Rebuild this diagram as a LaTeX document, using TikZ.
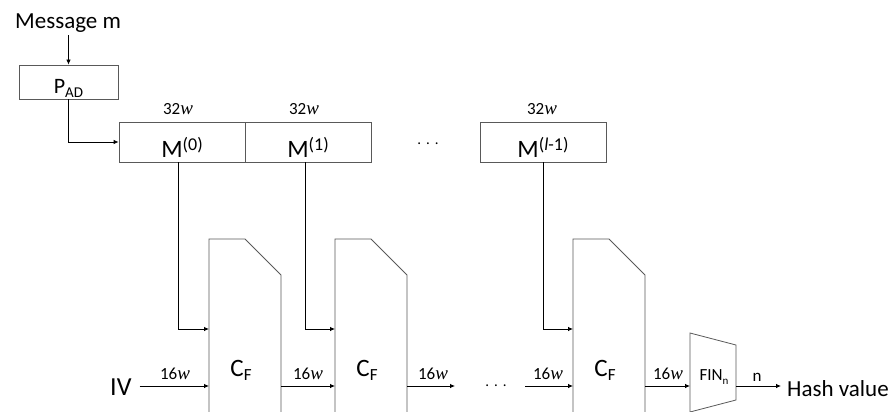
\documentclass[tikz,border=0pt]{standalone}
\usepackage{fontspec}
\setmainfont{Carlito}
\newfontfamily\wfont{Liberation Serif}
\usetikzlibrary{arrows.meta}
\definecolor{boxgray}{RGB}{89,89,89}
\newcommand{\mysup}[1]{\raisebox{7pt}{\fontsize{18}{20}\selectfont #1}}
\newcommand{\mysub}[2]{\raisebox{-4pt}{\fontsize{#1}{#1}\selectfont #2}}
\newcommand{\ww}{{\wfont\itshape\fontsize{19}{20}\selectfont w}}
\begin{document}
\begin{tikzpicture}[x=1pt,y=-1pt,
  outline/.style={draw=boxgray, line width=0.8pt},
  regbox/.style={outline, minimum height=40pt, minimum width=126pt, inner sep=0pt,
    text height=30pt, text depth=0pt, font=\fontsize{25}{27}\selectfont},
  wire/.style={line width=0.8pt, -{Latex[length=5pt,width=4.5pt]}},
  bits/.style={inner sep=0pt, anchor=base, font=\fontsize{17}{19}\selectfont},
  big/.style={inner sep=0pt, font=\fontsize{23}{25}\selectfont},
  dots/.style={inner sep=0pt, font=\fontsize{15}{16}\selectfont}]
\useasboundingbox (0,0) rectangle (891,412);
% message and padding
\node[big, anchor=base west, inner sep=2pt] (msg) at (13,29) {Message m};
\node[outline, minimum width=99pt, minimum height=34pt, inner sep=0pt,
  text height=22pt, text depth=0pt, font=\fontsize{22}{24}\selectfont] (pad) at (68.5,82) {P\mysub{15}{AD}};
\draw[wire] (pad.north |- msg.south) -- (pad.north);
% message blocks
\node[regbox] (M0) at (182,142) {M\mysup{(0)}};
\node[regbox] (M1) at (308,142) {M\mysup{(1)}};
\node[regbox] (Ml) at (543,142) {M\mysup{(\textit{l}-1)}};
\node[bits] (w0) at (178,114) {32\ww};
\node[bits] (w1) at (304,114) {32\ww};
\node[bits] (wl) at (542,114) {32\ww};
\node[dots] (dtop) at (428,144) {.\,\,.\,\,.};
\draw[wire] (pad.south) |- (M0.west);
% compression functions
\foreach \n/\L in {1/209,2/335,3/573}{
  \draw[outline] (\L,413) -- (\L,239) -- (\L+36,239) -- (\L+72,275) -- (\L+72,413);
  \coordinate (cf\n top) at (\L,329);
  \coordinate (cf\n in) at (\L,386);
  \coordinate (cf\n out) at (\L+72,386);
  \node[inner sep=0pt, anchor=base, font=\fontsize{25}{27}\selectfont] (cf\n) at (\L+32,376) {C\mysub{17}{F}};
}
\draw[wire] ([xshift=-4pt]M0.south) |- (cf1top);
\draw[wire] ([xshift=-3pt]M1.south) |- (cf2top);
\draw[wire] (Ml.south) |- (cf3top);
% chaining
\node[anchor=base west, inner ysep=0pt, inner xsep=8pt, font=\fontsize{26}{28}\selectfont] (iv) at (102,395) {IV};
\draw[wire] (iv.east |- cf1in) -- (cf1in);
\draw[wire] (cf1out) -- (cf2in);
\coordinate (mid1) at (455,386);
\coordinate (mid2) at (525,386);
\draw[wire] (cf2out) -- (mid1);
\node[dots] (dbot) at (496,386) {.\,\,.\,\,.};
\draw[wire] (mid2) -- (cf3in);
\node[bits] at (175,379) {16\ww};
\node[bits] at (308,379) {16\ww};
\node[bits] at (433,379) {16\ww};
\node[bits] at (548,379) {16\ww};
\node[bits] at (668,379) {16\ww};
% finalisation
\draw[outline] (690,333) -- (736,345) -- (736,400) -- (690,412) -- cycle;
\coordinate (finin) at (690,386);
\coordinate (finout) at (736,386);
\node[inner sep=0pt, anchor=base, font=\fontsize{17}{19}\selectfont] (fin) at (714,380) {FIN\mysub{11}{n}};
\draw[wire] (cf3out) -- (finin);
\node[anchor=base west, inner ysep=0pt, inner xsep=6pt, font=\fontsize{23}{25}\selectfont] (hash) at (781,396) {Hash value};
\draw[wire] (finout) -- (finout -| hash.west);
\node[bits] at (757,381) {n};
\end{tikzpicture}
\end{document}
